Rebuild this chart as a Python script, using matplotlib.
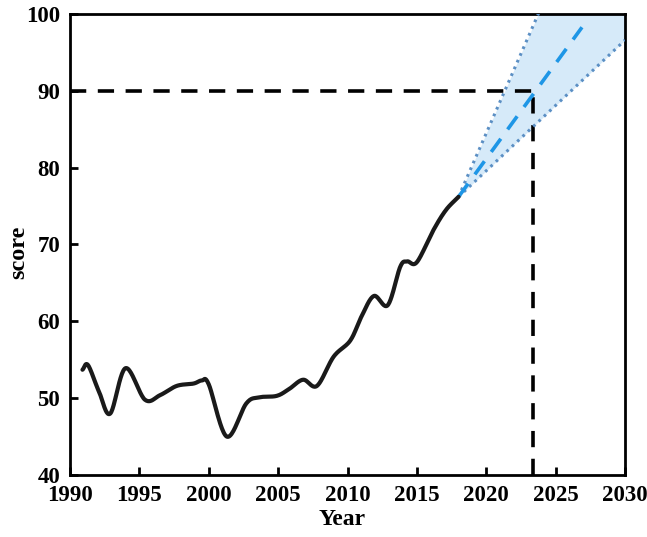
import numpy as np
import matplotlib
matplotlib.use("Agg")
import matplotlib.pyplot as plt

plt.rcParams['font.family'] = ['Liberation Serif', 'DejaVu Serif']
plt.rcParams['font.weight'] = 'bold'

# Observed score series
years = [1990.9, 1991.3, 1992.1, 1992.9, 1994.0, 1995.4, 1996.5, 1997.7, 1998.9,
         1999.5, 2000.0, 2001.3, 2002.7, 2003.6, 2004.9, 2005.8, 2006.8, 2007.8,
         2009.0, 2010.2, 2011.0, 2011.9, 2012.9, 2013.8, 2014.3, 2015.0, 2016.2,
         2017.1, 2018.0]
scores = [53.7, 54.3, 50.8, 48.0, 53.9, 49.8, 50.4, 51.6, 51.9,
          52.3, 51.8, 45.0, 49.3, 50.1, 50.3, 51.2, 52.4, 51.6,
          55.4, 57.5, 60.6, 63.3, 62.1, 67.1, 67.8, 67.7, 71.9,
          74.5, 76.2]

# Projection from the last observation
proj_start = (2018.0, 76.2)
proj_end_year = 2030.0
mid_end_year = 2026.9
slope_mid = 2.48
slope_high = 4.14
slope_low = 1.70

# Target level and the year it is reached
target_score = 90
target_year = 2023.4

x_ticks = [1990, 1995, 2000, 2005, 2010, 2015, 2020, 2025, 2030]
y_ticks = [40, 50, 60, 70, 80, 90, 100]


def catmull_rom(xs, ys, n=24):
    px = np.concatenate([[2 * xs[0] - xs[1]], xs, [2 * xs[-1] - xs[-2]]])
    py = np.concatenate([[2 * ys[0] - ys[1]], ys, [2 * ys[-1] - ys[-2]]])
    out_x, out_y = [], []
    t = np.linspace(0, 1, n, endpoint=False)
    for i in range(1, len(px) - 2):
        for p, o in ((px, out_x), (py, out_y)):
            p0, p1, p2, p3 = p[i - 1], p[i], p[i + 1], p[i + 2]
            o.extend(0.5 * ((2 * p1) + (-p0 + p2) * t
                            + (2 * p0 - 5 * p1 + 4 * p2 - p3) * t ** 2
                            + (-p0 + 3 * p1 - 3 * p2 + p3) * t ** 3))
    out_x.append(xs[-1])
    out_y.append(ys[-1])
    return np.array(out_x), np.array(out_y)


fig = plt.figure(figsize=(6.47, 5.37), dpi=100)
ax = fig.add_axes([70 / 647, 62 / 537, 555 / 647, 461 / 537])

sx, sy = catmull_rom(np.array(years, float), np.array(scores, float))
ax.plot(sx, sy, color='#1a1a1a', lw=3.0, solid_capstyle='round',
        solid_joinstyle='round', zorder=4)

# Projection fan
px = np.array([proj_start[0], proj_end_year])
y_high = proj_start[1] + slope_high * (px - proj_start[0])
y_low = proj_start[1] + slope_low * (px - proj_start[0])
ax.fill_between(px, y_low, y_high, color='#d6eaf9', lw=0, zorder=1)
dot_style = dict(color='#5b8fc4', lw=2.2, ls=(0, (0.9, 1.5)), zorder=3)
ax.plot(px, y_high, **dot_style)
ax.plot(px, y_low, **dot_style)
mx = np.array([proj_start[0], mid_end_year])
ax.plot(mx, proj_start[1] + slope_mid * (mx - proj_start[0]),
        color='#1e96e6', lw=2.6, ls=(0, (4.5, 3.2)), zorder=3)

# Target guide lines
guide = dict(color='black', lw=2.6, ls=(0, (4.5, 3.2)), zorder=2)
ax.plot([1990, target_year], [target_score, target_score], **guide)
ax.plot([target_year, target_year], [40, target_score], **guide)

ax.set_xlim(1990, 2030)
ax.set_ylim(40, 100)
ax.set_xticks(x_ticks)
ax.set_yticks(y_ticks)
ax.tick_params(direction='in', length=6, width=2, labelsize=16.5, pad=7)
for lab in ax.get_xticklabels() + ax.get_yticklabels():
    lab.set_fontweight('bold')
for s in ax.spines.values():
    s.set_linewidth(2.0)

ax.set_xlabel('Year', fontsize=17, fontweight='bold')
ax.set_ylabel('score', fontsize=17.5, fontweight='bold')
ax.xaxis.set_label_coords(0.49, -0.074)
ax.yaxis.set_label_coords(-0.074, 0.484)

fig.savefig('out.png', dpi=100)
